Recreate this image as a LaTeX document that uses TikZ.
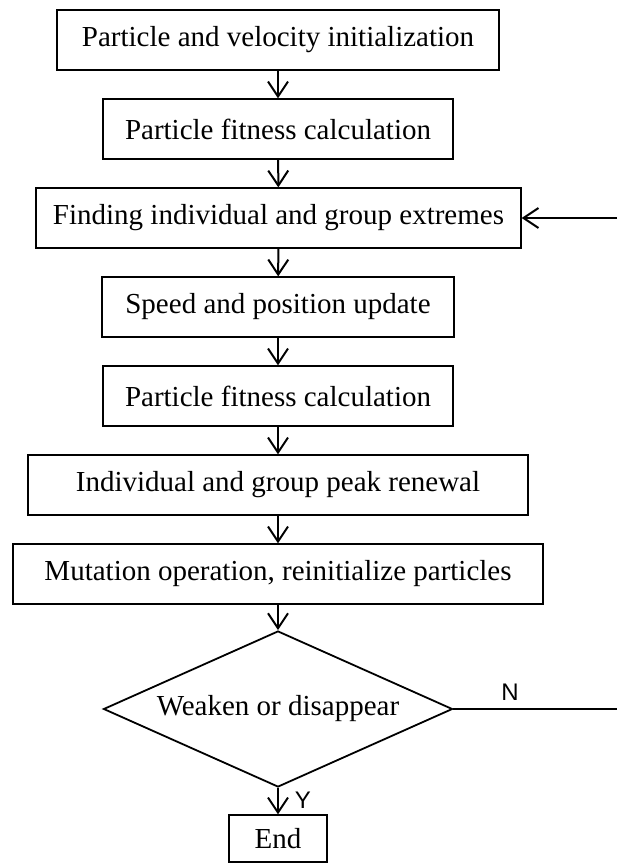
\documentclass[tikz,border=0pt]{standalone}
\usepackage{fontspec}
\setmainfont{Liberation Serif}
\newfontfamily\labfont{Liberation Sans}
\usetikzlibrary{arrows.meta,shapes.geometric}
\begin{document}
\begin{tikzpicture}[x=0.5pt,y=-0.5pt,
    box/.style={rectangle,draw,line width=0.65pt,minimum height=30pt,inner sep=0pt,
        font=\fontsize{14.5}{17}\selectfont},
    >={Straight Barb[length=7.5pt,width=10pt]}]
\useasboundingbox (0,0) rectangle (617,868);
    \node (b1) at (278,40) [box,minimum width=221pt] {Particle and velocity initialization};
    \node (b2) at (278,129) [box,minimum width=175pt] {Particle fitness calculation};
    \node (b3) at (278.5,218) [box,minimum width=242.5pt] {Finding individual and group extremes};
    \node (b4) at (278,307) [box,minimum width=176pt] {Speed and position update};
    \node (b5) at (278,396) [box,minimum width=175pt] {Particle fitness calculation};
    \node (b6) at (278,485) [box,minimum width=250pt] {Individual and group peak renewal};
    \node (b7) at (278,574) [box,minimum width=265pt] {Mutation operation, reinitialize particles};
    \node (dec) at (278,709) [diamond,draw,line width=0.9pt,inner sep=0pt,aspect=2.24,
        minimum width=174.5pt,minimum height=78pt,font=\fontsize{14.5}{17}\selectfont] {Weaken or disappear};
    \node (e) at (278,838.5) [box,minimum width=49pt,minimum height=23.5pt] {End};
    \coordinate (back) at (617,218);
    \coordinate (no) at (617,709);
    \node (nlab) at (510,692) {\labfont\fontsize{12}{14}\selectfont N};
    \node (ylab) at (303,800) {\labfont\fontsize{12}{14}\selectfont Y};
    \draw[->,line width=1pt] (b1) -- (b2);
    \draw[->,line width=1pt] (b2) -- (b3);
    \draw[->,line width=1pt] (b3) -- (b4);
    \draw[->,line width=1pt] (b4) -- (b5);
    \draw[->,line width=1pt] (b5) -- (b6);
    \draw[->,line width=1pt] (b6) -- (b7);
    \draw[->,line width=1pt] (b7) -- (dec);
    \draw[->,line width=1pt] (dec) -- (e);
\draw[->,line width=1pt] (back) -- (b3.east);
\draw[line width=0.8pt] (dec.east) -- (no);
\end{tikzpicture}
\end{document}
